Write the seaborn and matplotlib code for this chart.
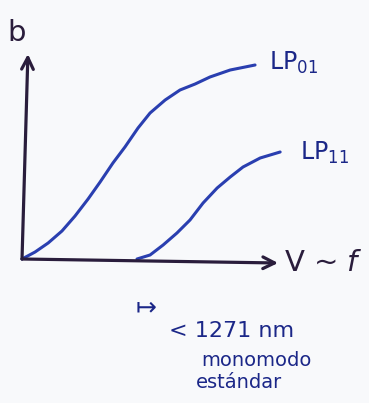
import matplotlib
matplotlib.use("Agg")
import matplotlib.pyplot as plt
import pandas as pd
import seaborn as sns

# Propagation constant b versus normalised frequency V for the first two LP modes
lp01_v = [0.0, 0.51, 1.02, 1.56, 2.07, 2.58, 3.05, 3.55, 4.02, 4.53, 5.0,
          5.59, 6.17, 6.76, 7.34, 8.13, 9.10]
lp01_b = [0.0, 0.035, 0.08, 0.14, 0.215, 0.30, 0.385, 0.48, 0.56, 0.655, 0.73,
          0.795, 0.845, 0.875, 0.91, 0.945, 0.97]
lp11_v = [4.49, 5.0, 5.51, 6.05, 6.56, 7.07, 7.62, 8.13, 8.63, 9.30, 10.08]
lp11_b = [0.0, 0.02, 0.07, 0.13, 0.195, 0.28, 0.355, 0.41, 0.46, 0.505, 0.535]
mode_names = ["LP$_{01}$", "LP$_{11}$"]

df = pd.concat([
    pd.DataFrame({"V": lp01_v, "b": lp01_b, "mode": mode_names[0]}),
    pd.DataFrame({"V": lp11_v, "b": lp11_b, "mode": mode_names[1]}),
])

sns.set_theme(style="white")
plt.rcParams["font.family"] = ["DejaVu Sans"]

ink_axis = "#2a1d3c"
ink_curve = "#2a3fb0"
ink_text = "#1b2788"

fig = plt.figure(figsize=(3.69, 4.03), dpi=100)
fig.patch.set_facecolor("#f8f9fb")
ax = fig.add_axes([0, 0, 1, 1])
ax.set_facecolor("#f8f9fb")
ax.set_xlim(-0.86, 13.55)
ax.set_ylim(-0.72, 1.295)
ax.axis("off")

sns.lineplot(data=df, x="V", y="b", hue="mode", units="mode", estimator=None,
             palette=[ink_curve, ink_curve], lw=2.2, legend=False, ax=ax,
             sort=False, solid_capstyle="round", solid_joinstyle="round")

# hand-drawn style axes with open arrowheads
arrow = dict(arrowstyle="->,head_length=0.7,head_width=0.35", color=ink_axis,
             lw=2.3, shrinkA=0, shrinkB=0)
ax.annotate("", xy=(10.0, -0.02), xytext=(0, 0), arrowprops=arrow)
ax.annotate("", xy=(0.23, 1.025), xytext=(0, 0), arrowprops=arrow)

ax.text(-0.22, 1.13, "b", color=ink_axis, fontsize=21, ha="center", va="center")
ax.text(10.25, -0.02, "V ~ $f$", color=ink_axis, fontsize=21, ha="left", va="center")

ax.text(9.65, 0.98, mode_names[0], color=ink_text, fontsize=17, ha="left", va="center")
ax.text(10.85, 0.53, mode_names[1], color=ink_text, fontsize=17, ha="left", va="center")

ax.text(4.45, -0.24, "\u21a6", color=ink_text, fontsize=18, ha="left", va="center")
ax.text(5.75, -0.36, "< 1271 nm", color=ink_text, fontsize=16, ha="left", va="center")
ax.text(7.0, -0.51, "monomodo", color=ink_text, fontsize=14, ha="left", va="center")
ax.text(6.8, -0.62, "estándar", color=ink_text, fontsize=14, ha="left", va="center")

fig.savefig("out.png", dpi=100, facecolor=fig.get_facecolor())
